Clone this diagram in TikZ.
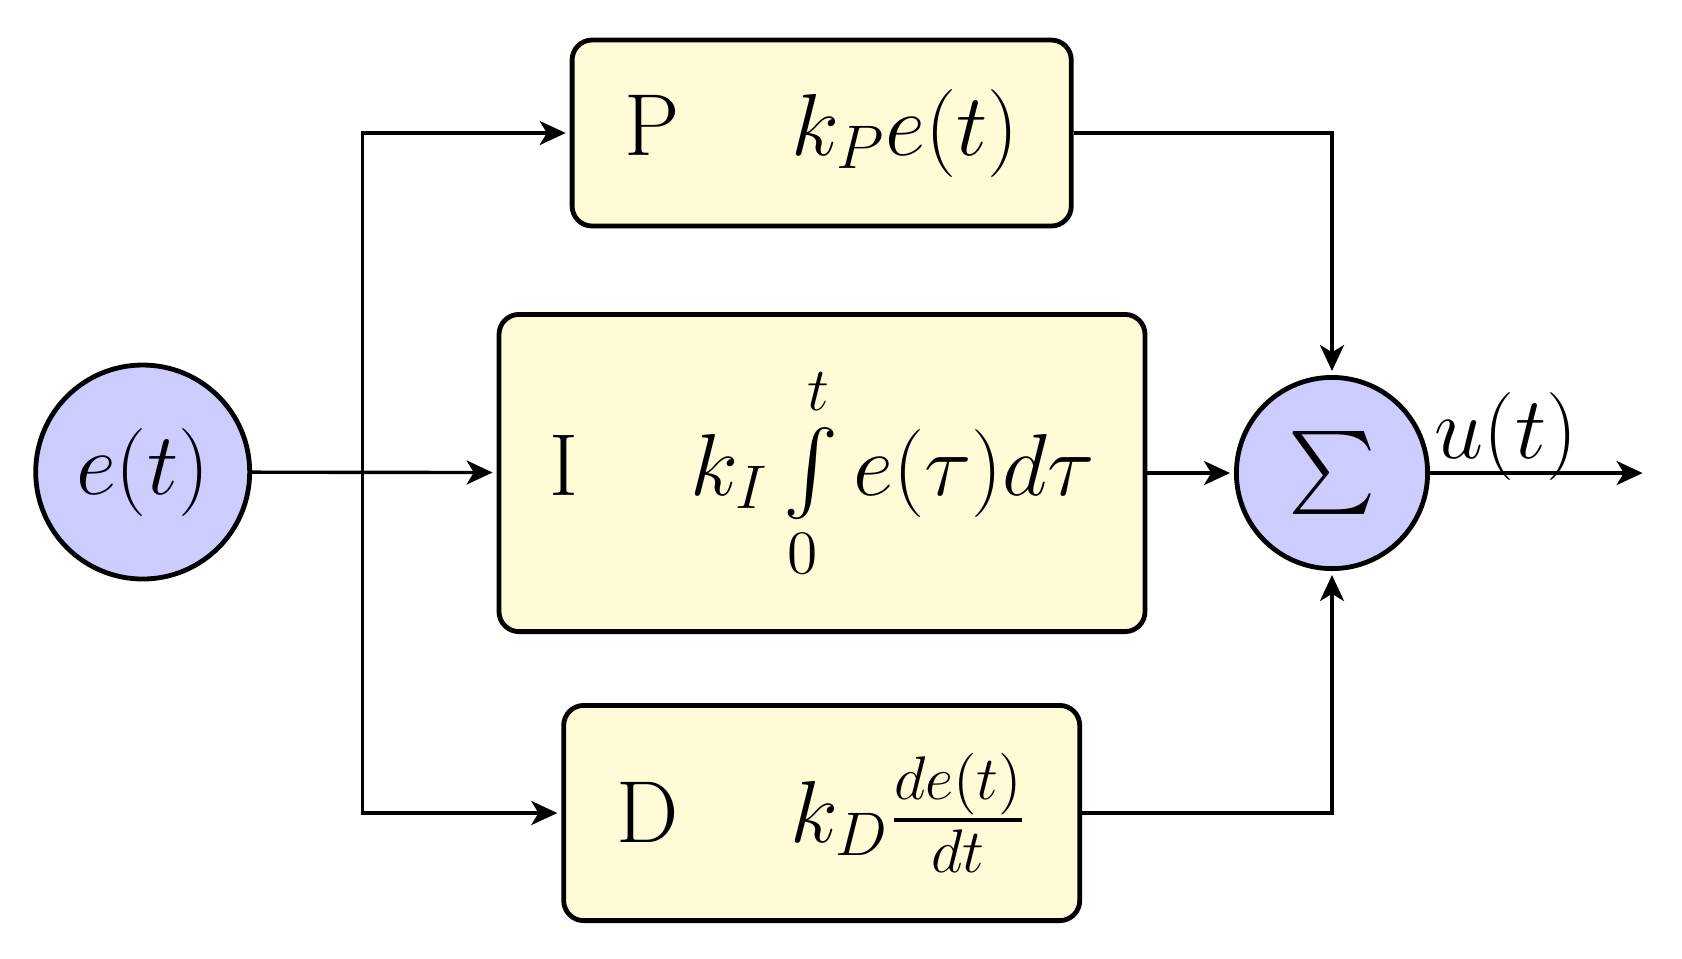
\RequirePackage{fix-cm}
\documentclass[tikz,border=0pt]{standalone}
\usepackage{exscale}
\usetikzlibrary{arrows.meta,calc}
\definecolor{boxfill}{RGB}{255,251,214}
\definecolor{circfill}{RGB}{204,204,255}
\begin{document}
\begin{tikzpicture}[x=0.25pt,y=-0.25pt,
  font=\fontsize{22}{26}\selectfont,
  conn/.style={line width=0.85pt,-{Stealth[inset=1.8pt,length=6.5pt,width=6pt]},shorten >=1pt},
  blk/.style={draw,line width=1.2pt,rounded corners=5pt,fill=boxfill,inner sep=0pt},
  sig/.style={draw,circle,line width=1.2pt,fill=circfill,inner sep=0pt}]
\useasboundingbox (0,0) rectangle (1682,958);
\node[sig,minimum size=53.5pt] (e) at (142.7,472) {$e(t)$};
\node[sig,minimum size=47.8pt] (S) at (1332,473) {\fontsize{22.5}{27}\selectfont$\textstyle\sum$};
\node[blk,minimum width=124.8pt,minimum height=46.5pt] (P) at (821.7,133) {P\hspace{28pt}$k_Pe(t)$};
\node[blk,minimum width=161.5pt,minimum height=79.3pt] (I) at (822,473) {I\hspace{28pt}$k_I\int\limits_0^t e(\tau)d\tau$};
\node[blk,minimum width=129pt,minimum height=53.8pt] (D) at (821.7,813) {D\hspace{28pt}$k_D\frac{de(t)}{dt}$};
\coordinate (br) at (362.6,472);
\coordinate (out) at (1646.6,473);
\draw[conn] (e) -- (I);
\draw[conn] (br) |- (P.west);
\draw[conn] (br) |- (D.west);
\draw[conn] (I) -- (S);
\draw[conn] (P.east) -| (S.north);
\draw[conn] (D.east) -| (S.south);
\draw[conn] (S.east) -- (out);
\node[anchor=base west,inner sep=0pt] (u) at ($(S.east)+(4,-15)$) {$u(t)$};
\end{tikzpicture}
\end{document}
